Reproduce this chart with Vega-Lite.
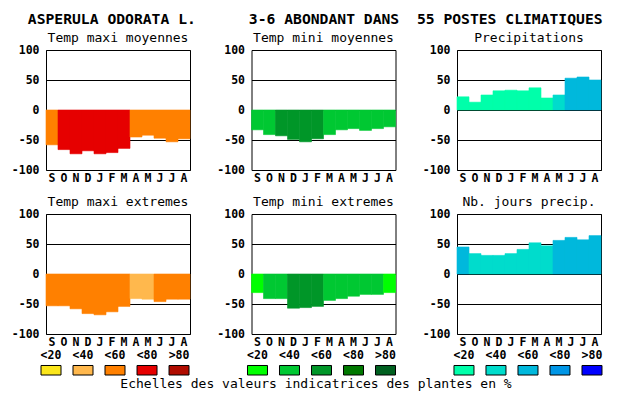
{
  "$schema": "https://vega.github.io/schema/vega-lite/v6.json",
  "padding": {"left": 10, "top": 11, "right": 2, "bottom": 0},
  "background": "white",
  "title": {
    "text": "ASPERULA ODORATA L.\u00a0\u00a0\u00a0\u00a0\u00a0\u00a03-6 ABONDANT DANS\u00a0\u00a055 POSTES CLIMATIQUES",
    "font": "DejaVu Sans Mono", "fontSize": 14.7, "fontWeight": "bold", "color": "black",
    "anchor": "start", "dx": 17, "offset": 5
  },
  "config": {
    "view": {"stroke": "black", "strokeWidth": 1},
    "bar": {"strokeWidth": 0.6},
    "title": {"font": "DejaVu Sans Mono", "fontSize": 13, "fontWeight": "normal", "color": "black", "offset": -1},
    "axisX": {"title": null, "labelAngle": 0, "ticks": false, "domain": false, "grid": false,
      "labelFont": "DejaVu Sans Mono", "labelFontWeight": "bold", "labelFontSize": 11.5, "labelColor": "black",
      "labelPadding": 2, "labelExpr": "substring(datum.label, 0, 1)"},
    "axisY": {"title": null, "grid": true, "gridColor": "black", "gridOpacity": 1, "gridWidth": 1,
      "ticks": false, "domain": false, "labelFont": "DejaVu Sans Mono", "labelFontWeight": "bold",
      "labelFontSize": 11.5, "labelColor": "black", "labelPadding": 7, "zindex": 1, "labelExpr": "'' + datum.value"}
  },
  "datasets": {
    "p1": [
      {"mois":"Sept","v":-58,"k":"T3"},{"mois":"Oct","v":-66,"k":"T4"},{"mois":"Nov","v":-73,"k":"T4"},
      {"mois":"Dec","v":-68,"k":"T4"},{"mois":"Janv","v":-73,"k":"T4"},{"mois":"Fevr","v":-71,"k":"T4"},
      {"mois":"Mars","v":-64,"k":"T4"},{"mois":"Avril","v":-45,"k":"T3"},{"mois":"Mai","v":-42,"k":"T3"},
      {"mois":"Juin","v":-47,"k":"T3"},{"mois":"Juil","v":-53,"k":"T3"},{"mois":"Aout","v":-48,"k":"T3"}
    ],
    "p2": [
      {"mois":"Sept","v":-33,"k":"N2"},{"mois":"Oct","v":-41,"k":"N2"},{"mois":"Nov","v":-43,"k":"N3"},
      {"mois":"Dec","v":-49,"k":"N3"},{"mois":"Janv","v":-53,"k":"N3"},{"mois":"Fevr","v":-48,"k":"N3"},
      {"mois":"Mars","v":-41,"k":"N2"},{"mois":"Avril","v":-33,"k":"N2"},{"mois":"Mai","v":-31,"k":"N2"},
      {"mois":"Juin","v":-34,"k":"N2"},{"mois":"Juil","v":-31,"k":"N2"},{"mois":"Aout","v":-28,"k":"N2"}
    ],
    "p3": [
      {"mois":"Sept","v":22,"k":"P1"},{"mois":"Oct","v":13,"k":"P1"},{"mois":"Nov","v":25,"k":"P1"},
      {"mois":"Dec","v":32,"k":"P1"},{"mois":"Janv","v":33,"k":"P1"},{"mois":"Fevr","v":32,"k":"P1"},
      {"mois":"Mars","v":37,"k":"P1"},{"mois":"Avril","v":20,"k":"P1"},{"mois":"Mai","v":25,"k":"P2"},
      {"mois":"Juin","v":53,"k":"P3"},{"mois":"Juil","v":55,"k":"P3"},{"mois":"Aout","v":50,"k":"P3"}
    ],
    "p4": [
      {"mois":"Sept","v":-53,"k":"T3"},{"mois":"Oct","v":-53,"k":"T3"},{"mois":"Nov","v":-58,"k":"T3"},
      {"mois":"Dec","v":-66,"k":"T3"},{"mois":"Janv","v":-68,"k":"T3"},{"mois":"Fevr","v":-63,"k":"T3"},
      {"mois":"Mars","v":-54,"k":"T3"},{"mois":"Avril","v":-41,"k":"T2"},{"mois":"Mai","v":-42,"k":"T2"},
      {"mois":"Juin","v":-46,"k":"T3"},{"mois":"Juil","v":-42,"k":"T3"},{"mois":"Aout","v":-42,"k":"T3"}
    ],
    "p5": [
      {"mois":"Sept","v":-31,"k":"N1"},{"mois":"Oct","v":-41,"k":"N2"},{"mois":"Nov","v":-41,"k":"N2"},
      {"mois":"Dec","v":-57,"k":"N3"},{"mois":"Janv","v":-56,"k":"N3"},{"mois":"Fevr","v":-54,"k":"N3"},
      {"mois":"Mars","v":-44,"k":"N2"},{"mois":"Avril","v":-41,"k":"N2"},{"mois":"Mai","v":-37,"k":"N2"},
      {"mois":"Juin","v":-34,"k":"N2"},{"mois":"Juil","v":-34,"k":"N2"},{"mois":"Aout","v":-31,"k":"N1"}
    ],
    "p6": [
      {"mois":"Sept","v":45,"k":"P3"},{"mois":"Oct","v":34,"k":"P2"},{"mois":"Nov","v":31,"k":"P2"},
      {"mois":"Dec","v":31,"k":"P2"},{"mois":"Janv","v":34,"k":"P2"},{"mois":"Fevr","v":41,"k":"P2"},
      {"mois":"Mars","v":52,"k":"P2"},{"mois":"Avril","v":47,"k":"P2"},{"mois":"Mai","v":56,"k":"P3"},
      {"mois":"Juin","v":61,"k":"P3"},{"mois":"Juil","v":57,"k":"P3"},{"mois":"Aout","v":64,"k":"P3"}
    ],
    "leg": [
      {"g":"T","c":"<20","k":"T1"},{"g":"T","c":"<40","k":"T2"},{"g":"T","c":"<60","k":"T3"},{"g":"T","c":"<80","k":"T4"},{"g":"T","c":">80","k":"T5"},
      {"g":"N","c":"<20","k":"N1"},{"g":"N","c":"<40","k":"N2"},{"g":"N","c":"<60","k":"N3"},{"g":"N","c":"<80","k":"N4"},{"g":"N","c":">80","k":"N5"},
      {"g":"P","c":"<20","k":"P1"},{"g":"P","c":"<40","k":"P2"},{"g":"P","c":"<60","k":"P3"},{"g":"P","c":"<80","k":"P4"},{"g":"P","c":">80","k":"P5"}
    ]
  },
  "columns": 1,
  "align": "none",
  "spacing": 1.5,
  "concat": [
    {
      "spacing": 11,
      "vconcat": [
        {
          "spacing": 24.5,
          "hconcat": [
            {"width": 144, "height": 120, "title": "Temp maxi moyennes", "data": {"name": "p1"}, "mark": "bar",
             "encoding": {
               "x": {"field": "mois", "type": "nominal", "sort": ["Sept","Oct","Nov","Dec","Janv","Fevr","Mars","Avril","Mai","Juin","Juil","Aout"], "scale": {"paddingInner": 0, "paddingOuter": 0}},
               "y": {"field": "v", "type": "quantitative", "scale": {"domain": [-100, 100], "nice": false}, "axis": {"values": [-100, -50, 0, 50, 100]}},
               "color": {"field": "k", "type": "nominal", "legend": null, "scale": {"domain": ["T1","T2","T3","T4","T5","N1","N2","N3","N4","N5","P1","P2","P3","P4","P5"], "range": ["#fbe61b","#ffb84d","#ff8000","#e60000","#b00c00","#00ff00","#00c832","#009628","#007800","#006020","#00ffaa","#00dccc","#00b8dc","#0096e6","#0000ff"]}},
               "stroke": {"field": "k", "type": "nominal", "legend": null, "scale": {"domain": ["T1","T2","T3","T4","T5","N1","N2","N3","N4","N5","P1","P2","P3","P4","P5"], "range": ["#fbe61b","#ffb84d","#ff8000","#e60000","#b00c00","#00ff00","#00c832","#009628","#007800","#006020","#00ffaa","#00dccc","#00b8dc","#0096e6","#0000ff"]}}
             }},
            {"width": 144, "height": 120, "title": "Temp mini moyennes", "data": {"name": "p2"}, "mark": "bar",
             "encoding": {
               "x": {"field": "mois", "type": "nominal", "sort": ["Sept","Oct","Nov","Dec","Janv","Fevr","Mars","Avril","Mai","Juin","Juil","Aout"], "scale": {"paddingInner": 0, "paddingOuter": 0}},
               "y": {"field": "v", "type": "quantitative", "scale": {"domain": [-100, 100], "nice": false}, "axis": {"values": [-100, -50, 0, 50, 100]}},
               "color": {"field": "k", "type": "nominal", "legend": null, "scale": {"domain": ["T1","T2","T3","T4","T5","N1","N2","N3","N4","N5","P1","P2","P3","P4","P5"], "range": ["#fbe61b","#ffb84d","#ff8000","#e60000","#b00c00","#00ff00","#00c832","#009628","#007800","#006020","#00ffaa","#00dccc","#00b8dc","#0096e6","#0000ff"]}},
               "stroke": {"field": "k", "type": "nominal", "legend": null, "scale": {"domain": ["T1","T2","T3","T4","T5","N1","N2","N3","N4","N5","P1","P2","P3","P4","P5"], "range": ["#fbe61b","#ffb84d","#ff8000","#e60000","#b00c00","#00ff00","#00c832","#009628","#007800","#006020","#00ffaa","#00dccc","#00b8dc","#0096e6","#0000ff"]}}
             }},
            {"width": 144, "height": 120, "title": "Precipitations", "data": {"name": "p3"}, "mark": "bar",
             "encoding": {
               "x": {"field": "mois", "type": "nominal", "sort": ["Sept","Oct","Nov","Dec","Janv","Fevr","Mars","Avril","Mai","Juin","Juil","Aout"], "scale": {"paddingInner": 0, "paddingOuter": 0}},
               "y": {"field": "v", "type": "quantitative", "scale": {"domain": [-100, 100], "nice": false}, "axis": {"values": [-100, -50, 0, 50, 100]}},
               "color": {"field": "k", "type": "nominal", "legend": null, "scale": {"domain": ["T1","T2","T3","T4","T5","N1","N2","N3","N4","N5","P1","P2","P3","P4","P5"], "range": ["#fbe61b","#ffb84d","#ff8000","#e60000","#b00c00","#00ff00","#00c832","#009628","#007800","#006020","#00ffaa","#00dccc","#00b8dc","#0096e6","#0000ff"]}},
               "stroke": {"field": "k", "type": "nominal", "legend": null, "scale": {"domain": ["T1","T2","T3","T4","T5","N1","N2","N3","N4","N5","P1","P2","P3","P4","P5"], "range": ["#fbe61b","#ffb84d","#ff8000","#e60000","#b00c00","#00ff00","#00c832","#009628","#007800","#006020","#00ffaa","#00dccc","#00b8dc","#0096e6","#0000ff"]}}
             }}
          ]
        },
        {
          "spacing": 24.5,
          "hconcat": [
            {"width": 144, "height": 120, "title": "Temp maxi extremes", "data": {"name": "p4"}, "mark": "bar",
             "encoding": {
               "x": {"field": "mois", "type": "nominal", "sort": ["Sept","Oct","Nov","Dec","Janv","Fevr","Mars","Avril","Mai","Juin","Juil","Aout"], "scale": {"paddingInner": 0, "paddingOuter": 0}},
               "y": {"field": "v", "type": "quantitative", "scale": {"domain": [-100, 100], "nice": false}, "axis": {"values": [-100, -50, 0, 50, 100]}},
               "color": {"field": "k", "type": "nominal", "legend": null, "scale": {"domain": ["T1","T2","T3","T4","T5","N1","N2","N3","N4","N5","P1","P2","P3","P4","P5"], "range": ["#fbe61b","#ffb84d","#ff8000","#e60000","#b00c00","#00ff00","#00c832","#009628","#007800","#006020","#00ffaa","#00dccc","#00b8dc","#0096e6","#0000ff"]}},
               "stroke": {"field": "k", "type": "nominal", "legend": null, "scale": {"domain": ["T1","T2","T3","T4","T5","N1","N2","N3","N4","N5","P1","P2","P3","P4","P5"], "range": ["#fbe61b","#ffb84d","#ff8000","#e60000","#b00c00","#00ff00","#00c832","#009628","#007800","#006020","#00ffaa","#00dccc","#00b8dc","#0096e6","#0000ff"]}}
             }},
            {"width": 144, "height": 120, "title": "Temp mini extremes", "data": {"name": "p5"}, "mark": "bar",
             "encoding": {
               "x": {"field": "mois", "type": "nominal", "sort": ["Sept","Oct","Nov","Dec","Janv","Fevr","Mars","Avril","Mai","Juin","Juil","Aout"], "scale": {"paddingInner": 0, "paddingOuter": 0}},
               "y": {"field": "v", "type": "quantitative", "scale": {"domain": [-100, 100], "nice": false}, "axis": {"values": [-100, -50, 0, 50, 100]}},
               "color": {"field": "k", "type": "nominal", "legend": null, "scale": {"domain": ["T1","T2","T3","T4","T5","N1","N2","N3","N4","N5","P1","P2","P3","P4","P5"], "range": ["#fbe61b","#ffb84d","#ff8000","#e60000","#b00c00","#00ff00","#00c832","#009628","#007800","#006020","#00ffaa","#00dccc","#00b8dc","#0096e6","#0000ff"]}},
               "stroke": {"field": "k", "type": "nominal", "legend": null, "scale": {"domain": ["T1","T2","T3","T4","T5","N1","N2","N3","N4","N5","P1","P2","P3","P4","P5"], "range": ["#fbe61b","#ffb84d","#ff8000","#e60000","#b00c00","#00ff00","#00c832","#009628","#007800","#006020","#00ffaa","#00dccc","#00b8dc","#0096e6","#0000ff"]}}
             }},
            {"width": 144, "height": 120, "title": "Nb. jours precip.", "data": {"name": "p6"}, "mark": "bar",
             "encoding": {
               "x": {"field": "mois", "type": "nominal", "sort": ["Sept","Oct","Nov","Dec","Janv","Fevr","Mars","Avril","Mai","Juin","Juil","Aout"], "scale": {"paddingInner": 0, "paddingOuter": 0}},
               "y": {"field": "v", "type": "quantitative", "scale": {"domain": [-100, 100], "nice": false}, "axis": {"values": [-100, -50, 0, 50, 100]}},
               "color": {"field": "k", "type": "nominal", "legend": null, "scale": {"domain": ["T1","T2","T3","T4","T5","N1","N2","N3","N4","N5","P1","P2","P3","P4","P5"], "range": ["#fbe61b","#ffb84d","#ff8000","#e60000","#b00c00","#00ff00","#00c832","#009628","#007800","#006020","#00ffaa","#00dccc","#00b8dc","#0096e6","#0000ff"]}},
               "stroke": {"field": "k", "type": "nominal", "legend": null, "scale": {"domain": ["T1","T2","T3","T4","T5","N1","N2","N3","N4","N5","P1","P2","P3","P4","P5"], "range": ["#fbe61b","#ffb84d","#ff8000","#e60000","#b00c00","#00ff00","#00c832","#009628","#007800","#006020","#00ffaa","#00dccc","#00b8dc","#0096e6","#0000ff"]}}
             }}
          ]
        }
      ]
    },
    {
      "width": 562, "height": 23.5,
      "view": {"stroke": null},
      "data": {"name": "leg"},
      "title": {"text": "Echelles des valeurs indicatrices des plantes en %", "orient": "bottom", "anchor": "middle", "dx": -11, "offset": 2},
      "encoding": {
        "x": {"field": "g", "type": "nominal", "sort": ["T","N","P"], "scale": {"range": [-11, 562], "paddingInner": 0.225, "paddingOuter": 0}, "axis": null},
        "xOffset": {"field": "c", "type": "nominal", "sort": ["<20","<40","<60","<80",">80"], "scale": {"paddingInner": 0.375, "paddingOuter": 0.1875}}
      },
      "layer": [
        {"mark": {"type": "text", "font": "DejaVu Sans Mono", "fontWeight": "bold", "fontSize": 11.5, "color": "black"},
         "encoding": {
           "y": {"datum": "lab", "type": "nominal", "scale": {"domain": ["lab", "box"], "paddingInner": 0.32, "paddingOuter": 0}, "axis": null},
           "text": {"field": "c"}
         }},
        {"mark": {"type": "rect", "stroke": "black", "strokeWidth": 1},
         "encoding": {
           "y": {"datum": "box", "type": "nominal", "axis": null},
           "color": {"field": "k", "type": "nominal", "legend": null, "scale": {"domain": ["T1","T2","T3","T4","T5","N1","N2","N3","N4","N5","P1","P2","P3","P4","P5"], "range": ["#fbe61b","#ffb84d","#ff8000","#e60000","#b00c00","#00ff00","#00c832","#009628","#007800","#006020","#00ffaa","#00dccc","#00b8dc","#0096e6","#0000ff"]}}
         }}
      ]
    }
  ]
}
